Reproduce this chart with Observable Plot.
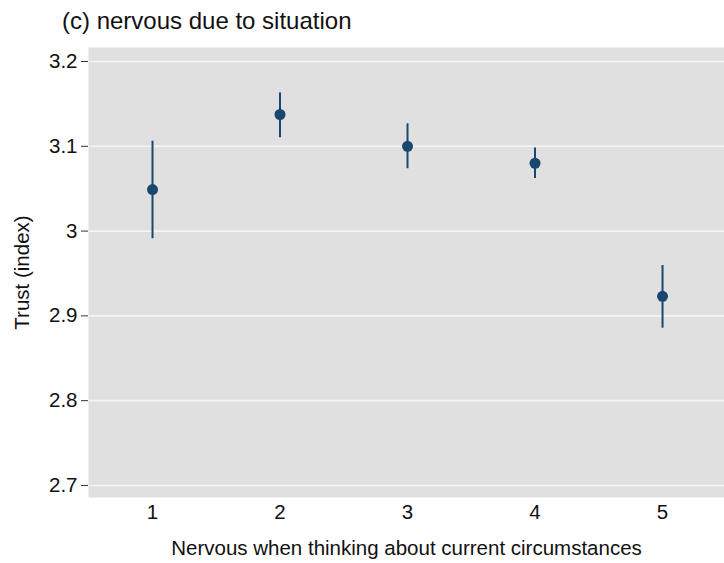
<!DOCTYPE html>
<html>
<head>
<meta charset="utf-8">
<script src="https://cdn.jsdelivr.net/npm/d3@7"></script>
<script src="https://cdn.jsdelivr.net/npm/@observablehq/plot@0.6"></script>
<style>
  body { margin: 0; background: #fff; }
  #wrap { position: relative; width: 724px; height: 563px; font-family: "Liberation Sans", Arial, Helvetica, sans-serif; }
  #title { position: absolute; left: 62px; top: 7px; font-size: 24px; line-height: 28px; color: #111; white-space: nowrap; }
  #chart { position: absolute; left: 0; top: 0; }
</style>
</head>
<body>
<div id="wrap">
  <div id="chart"></div>
  <div id="title">(c) nervous due to situation</div>
</div>
<script>
const categories = [1, 2, 3, 4, 5];
const means = [3.049, 3.1375, 3.100, 3.080, 2.923];
const lower = [2.991, 3.110, 3.0735, 3.062, 2.8855];
const upper = [3.106, 3.163, 3.1265, 3.098, 2.9594];
const yTicks = [2.7, 2.8, 2.9, 3.0, 3.1, 3.2];
const xLabel = "Nervous when thinking about current circumstances";
const yLabel = "Trust (index)";

const data = categories.map((c, i) => ({x: c, y: means[i], lo: lower[i], hi: upper[i]}));
const navy = "#1a476f";
const fs = 20.5;

const plot = Plot.plot({
  width: 724,
  height: 563,
  marginLeft: 88,
  marginRight: 0,
  marginTop: 47,
  marginBottom: 66,
  style: {fontFamily: '"Liberation Sans", Arial, Helvetica, sans-serif', fontSize: fs + "px", color: "#111", background: "#fff"},
  x: {domain: [0.498, 5.486], label: null},
  y: {domain: [2.6858, 3.2165], label: null},
  marks: [
    Plot.frame({fill: "#e0e0e0", stroke: null}),
    Plot.ruleY(yTicks, {stroke: "#f4f4f4", strokeWidth: 1.6}),
    Plot.axisY({ticks: yTicks, tickSize: 7, tickPadding: 4, tickFormat: d => d3.format("~g")(d), fontSize: fs, stroke: "#333", label: null}),
    Plot.axisX({ticks: categories, tickSize: 0, tickPadding: 7, tickFormat: d => String(d), fontSize: fs, label: null}),
    Plot.ruleX(data, {x: "x", y1: "lo", y2: "hi", stroke: navy, strokeWidth: 2}),
    Plot.dot(data, {x: "x", y: "y", r: 5.5, fill: navy, stroke: null}),
    Plot.text([xLabel], {frameAnchor: "bottom", textAnchor: "middle", lineAnchor: "middle", dy: 51, fontSize: fs, fill: "#111", text: d => d}),
    Plot.text([yLabel], {frameAnchor: "left", textAnchor: "middle", lineAnchor: "middle", dx: -66, rotate: -90, fontSize: fs, fill: "#111", text: d => d})
  ]
});
document.getElementById("chart").appendChild(plot);
</script>
</body>
</html>
